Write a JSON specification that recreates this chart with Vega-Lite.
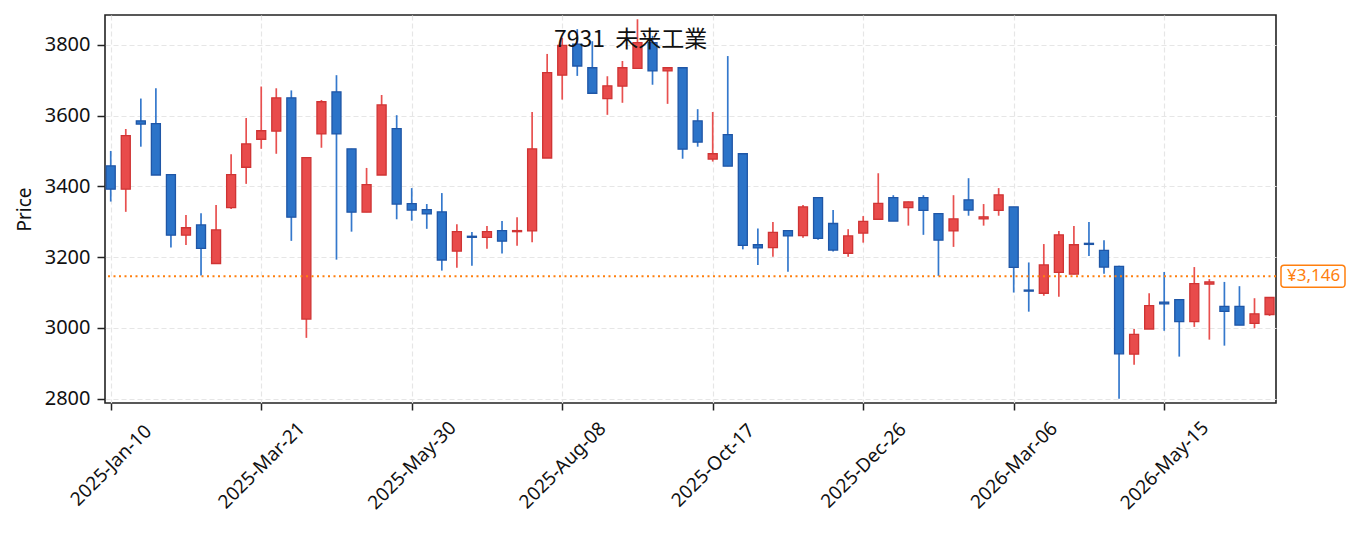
{
  "$schema": "https://vega.github.io/schema/vega-lite/v6.json",
  "width": 1171,
  "height": 388,
  "autosize": {"type": "none"},
  "padding": {"left": 105, "top": 15, "right": 79, "bottom": 130},
  "background": "white",
  "title": {
    "text": "7931\u00a0\u00a0未来工業",
    "frame": "group",
    "anchor": "start",
    "baseline": "alphabetic",
    "offset": 0,
    "dx": 449,
    "dy": 55,
    "font": "Noto Sans CJK JP",
    "fontSize": 23,
    "fontWeight": "normal",
    "color": "#111111"
  },
  "datasets": {
    "weekly": [
      {"date": "2025-01-10", "open": 3458, "high": 3500, "low": 3357, "close": 3392},
      {"date": "2025-01-17", "open": 3392, "high": 3562, "low": 3328, "close": 3543},
      {"date": "2025-01-24", "open": 3585, "high": 3648, "low": 3512, "close": 3576},
      {"date": "2025-01-31", "open": 3577, "high": 3677, "low": 3432, "close": 3432},
      {"date": "2025-02-07", "open": 3433, "high": 3433, "low": 3227, "close": 3262},
      {"date": "2025-02-14", "open": 3262, "high": 3319, "low": 3234, "close": 3283},
      {"date": "2025-02-21", "open": 3291, "high": 3324, "low": 3148, "close": 3225},
      {"date": "2025-02-28", "open": 3182, "high": 3347, "low": 3182, "close": 3277},
      {"date": "2025-03-07", "open": 3340, "high": 3491, "low": 3336, "close": 3433},
      {"date": "2025-03-14", "open": 3454, "high": 3593, "low": 3407, "close": 3520},
      {"date": "2025-03-21", "open": 3533, "high": 3682, "low": 3506, "close": 3557},
      {"date": "2025-03-28", "open": 3556, "high": 3677, "low": 3492, "close": 3650},
      {"date": "2025-04-04", "open": 3650, "high": 3671, "low": 3246, "close": 3313},
      {"date": "2025-04-11", "open": 3025, "high": 3481, "low": 2972, "close": 3481},
      {"date": "2025-04-18", "open": 3548, "high": 3644, "low": 3509, "close": 3639},
      {"date": "2025-04-25", "open": 3667, "high": 3714, "low": 3193, "close": 3548},
      {"date": "2025-05-02", "open": 3506, "high": 3506, "low": 3272, "close": 3327},
      {"date": "2025-05-09", "open": 3327, "high": 3452, "low": 3327, "close": 3405},
      {"date": "2025-05-16", "open": 3432, "high": 3658, "low": 3432, "close": 3630},
      {"date": "2025-05-23", "open": 3563, "high": 3601, "low": 3307, "close": 3350},
      {"date": "2025-05-30", "open": 3351, "high": 3395, "low": 3303, "close": 3333},
      {"date": "2025-06-06", "open": 3334, "high": 3350, "low": 3280, "close": 3322},
      {"date": "2025-06-13", "open": 3328, "high": 3381, "low": 3162, "close": 3192},
      {"date": "2025-06-20", "open": 3217, "high": 3293, "low": 3170, "close": 3272},
      {"date": "2025-06-27", "open": 3259, "high": 3271, "low": 3176, "close": 3256},
      {"date": "2025-07-04", "open": 3256, "high": 3288, "low": 3224, "close": 3272},
      {"date": "2025-07-11", "open": 3275, "high": 3302, "low": 3210, "close": 3245},
      {"date": "2025-07-18", "open": 3272, "high": 3313, "low": 3232, "close": 3275},
      {"date": "2025-07-25", "open": 3274, "high": 3610, "low": 3242, "close": 3506},
      {"date": "2025-08-01", "open": 3480, "high": 3774, "low": 3480, "close": 3721},
      {"date": "2025-08-08", "open": 3714, "high": 3820, "low": 3645, "close": 3798},
      {"date": "2025-08-15", "open": 3802, "high": 3844, "low": 3712, "close": 3740},
      {"date": "2025-08-22", "open": 3735, "high": 3810, "low": 3663, "close": 3663},
      {"date": "2025-08-29", "open": 3648, "high": 3711, "low": 3602, "close": 3684},
      {"date": "2025-09-05", "open": 3683, "high": 3754, "low": 3636, "close": 3735},
      {"date": "2025-09-12", "open": 3733, "high": 3872, "low": 3733, "close": 3806},
      {"date": "2025-09-19", "open": 3806, "high": 3825, "low": 3687, "close": 3726},
      {"date": "2025-09-26", "open": 3726, "high": 3737, "low": 3633, "close": 3735},
      {"date": "2025-10-03", "open": 3735, "high": 3735, "low": 3478, "close": 3505},
      {"date": "2025-10-10", "open": 3585, "high": 3618, "low": 3512, "close": 3525},
      {"date": "2025-10-17", "open": 3477, "high": 3610, "low": 3470, "close": 3492},
      {"date": "2025-10-24", "open": 3546, "high": 3768, "low": 3457, "close": 3457},
      {"date": "2025-10-31", "open": 3492, "high": 3492, "low": 3222, "close": 3233},
      {"date": "2025-11-07", "open": 3235, "high": 3281, "low": 3178, "close": 3226},
      {"date": "2025-11-14", "open": 3227, "high": 3299, "low": 3201, "close": 3270},
      {"date": "2025-11-21", "open": 3275, "high": 3275, "low": 3159, "close": 3260},
      {"date": "2025-11-28", "open": 3261, "high": 3347, "low": 3255, "close": 3342},
      {"date": "2025-12-05", "open": 3368, "high": 3368, "low": 3249, "close": 3253},
      {"date": "2025-12-12", "open": 3295, "high": 3333, "low": 3216, "close": 3220},
      {"date": "2025-12-19", "open": 3211, "high": 3279, "low": 3201, "close": 3260},
      {"date": "2025-12-26", "open": 3268, "high": 3316, "low": 3241, "close": 3301},
      {"date": "2026-01-02", "open": 3307, "high": 3437, "low": 3307, "close": 3352},
      {"date": "2026-01-09", "open": 3368, "high": 3375, "low": 3302, "close": 3302},
      {"date": "2026-01-16", "open": 3340, "high": 3357, "low": 3289, "close": 3356},
      {"date": "2026-01-23", "open": 3368, "high": 3375, "low": 3263, "close": 3332},
      {"date": "2026-01-30", "open": 3323, "high": 3323, "low": 3147, "close": 3248},
      {"date": "2026-02-06", "open": 3274, "high": 3375, "low": 3229, "close": 3308},
      {"date": "2026-02-13", "open": 3362, "high": 3423, "low": 3317, "close": 3333},
      {"date": "2026-02-20", "open": 3308, "high": 3350, "low": 3289, "close": 3314},
      {"date": "2026-02-27", "open": 3332, "high": 3395, "low": 3317, "close": 3376},
      {"date": "2026-03-06", "open": 3342, "high": 3342, "low": 3100, "close": 3171},
      {"date": "2026-03-13", "open": 3107, "high": 3185, "low": 3046, "close": 3104},
      {"date": "2026-03-20", "open": 3098, "high": 3237, "low": 3091, "close": 3178},
      {"date": "2026-03-27", "open": 3157, "high": 3274, "low": 3088, "close": 3263},
      {"date": "2026-04-03", "open": 3152, "high": 3288, "low": 3152, "close": 3235},
      {"date": "2026-04-10", "open": 3239, "high": 3299, "low": 3203, "close": 3236},
      {"date": "2026-04-17", "open": 3219, "high": 3248, "low": 3153, "close": 3172},
      {"date": "2026-04-24", "open": 3174, "high": 3176, "low": 2800, "close": 2927},
      {"date": "2026-05-01", "open": 2926, "high": 2997, "low": 2896, "close": 2982},
      {"date": "2026-05-08", "open": 2997, "high": 3098, "low": 2997, "close": 3063},
      {"date": "2026-05-15", "open": 3073, "high": 3158, "low": 2992, "close": 3068},
      {"date": "2026-05-22", "open": 3080, "high": 3080, "low": 2919, "close": 3018},
      {"date": "2026-05-29", "open": 3018, "high": 3172, "low": 3003, "close": 3125},
      {"date": "2026-06-05", "open": 3124, "high": 3138, "low": 2967, "close": 3130},
      {"date": "2026-06-12", "open": 3061, "high": 3130, "low": 2950, "close": 3047},
      {"date": "2026-06-19", "open": 3061, "high": 3118, "low": 3008, "close": 3008},
      {"date": "2026-06-26", "open": 3013, "high": 3084, "low": 2999, "close": 3040},
      {"date": "2026-07-03", "open": 3038, "high": 3086, "low": 3034, "close": 3086}
    ],
    "current": [
      {"date": "2026-07-06", "price": 3146, "label": "¥3,146"}
    ]
  },
  "layer": [
    {
      "data": {"name": "weekly"},
      "mark": {"type": "rule", "strokeWidth": 1.7},
      "encoding": {
        "x": {
          "field": "date",
          "type": "temporal",
          "title": null,
          "scale": {
            "type": "utc",
            "padding": 0,
            "domain": [
              {"year": 2025, "month": 1, "date": 7, "hours": 8, "utc": true},
              {"year": 2026, "month": 7, "date": 6, "utc": true}
            ]
          },
          "axis": {
            "values": [
              {"year": 2025, "month": 1, "date": 10, "utc": true},
              {"year": 2025, "month": 3, "date": 21, "utc": true},
              {"year": 2025, "month": 5, "date": 30, "utc": true},
              {"year": 2025, "month": 8, "date": 8, "utc": true},
              {"year": 2025, "month": 10, "date": 17, "utc": true},
              {"year": 2025, "month": 12, "date": 26, "utc": true},
              {"year": 2026, "month": 3, "date": 6, "utc": true},
              {"year": 2026, "month": 5, "date": 15, "utc": true}
            ],
            "format": "%Y-%b-%d",
            "labelAngle": -45,
            "labelAlign": "center",
            "labelBaseline": "middle",
            "labelPadding": 55,
            "labelOverlap": false,
            "tickSize": 7
          }
        },
        "y": {
          "field": "low",
          "type": "quantitative",
          "title": "Price",
          "scale": {"domain": [2788, 3884], "nice": false, "zero": false},
          "axis": {
            "values": [2800, 3000, 3200, 3400, 3600, 3800],
            "format": "d",
            "tickSize": 8,
            "labelPadding": 7,
            "labelFontSize": 20,
            "titlePadding": 10
          }
        },
        "y2": {"field": "high"},
        "color": {
          "condition": {"test": "datum.close > datum.open", "value": "#e8504f"},
          "value": "#3478cc"
        }
      }
    },
    {
      "data": {"name": "weekly"},
      "mark": {"type": "bar", "size": 9, "strokeWidth": 1.3},
      "encoding": {
        "x": {"field": "date", "type": "temporal"},
        "y": {"field": "open", "type": "quantitative"},
        "y2": {"field": "close"},
        "fill": {
          "condition": {"test": "datum.close > datum.open", "value": "#e84b4b"},
          "value": "#2b73c8"
        },
        "stroke": {
          "condition": {"test": "datum.close > datum.open", "value": "#cf3434"},
          "value": "#1f56a6"
        }
      }
    },
    {
      "data": {"name": "current"},
      "mark": {"type": "rule", "color": "#ff7f0e", "strokeWidth": 1.8, "strokeDash": [2, 3.5]},
      "encoding": {"y": {"field": "price", "type": "quantitative"}}
    },
    {
      "data": {"name": "current"},
      "mark": {
        "type": "point",
        "shape": "M0.25,-0.344H2.06A0.094,0.094 0 0 1 2.156,-0.25V0.25A0.094,0.094 0 0 1 2.06,0.344H0.25A0.094,0.094 0 0 1 0.156,0.25V-0.25A0.094,0.094 0 0 1 0.25,-0.344Z",
        "size": 4096,
        "filled": true,
        "fill": "white",
        "stroke": "#ff7f0e",
        "strokeWidth": 1.5,
        "opacity": 1
      },
      "encoding": {
        "x": {"field": "date", "type": "temporal"},
        "y": {"field": "price", "type": "quantitative"}
      }
    },
    {
      "data": {"name": "current"},
      "mark": {
        "type": "text",
        "align": "left",
        "baseline": "middle",
        "dx": 11,
        "fontSize": 17,
        "font": "Noto Sans",
        "color": "#ff7f0e"
      },
      "encoding": {
        "x": {"field": "date", "type": "temporal"},
        "y": {"field": "price", "type": "quantitative"},
        "text": {"field": "label"}
      }
    }
  ],
  "config": {
    "view": {"stroke": "#222222", "strokeWidth": 1.6},
    "axis": {
      "domain": false,
      "grid": true,
      "gridColor": "#e6e6e6",
      "gridDash": [5, 3],
      "gridWidth": 1.2,
      "tickColor": "#222222",
      "tickWidth": 1.5,
      "labelFont": "Noto Sans",
      "labelFontSize": 19,
      "labelColor": "#111111",
      "titleFont": "Noto Sans",
      "titleFontSize": 19,
      "titleFontWeight": "normal",
      "titleColor": "#111111"
    }
  }
}
